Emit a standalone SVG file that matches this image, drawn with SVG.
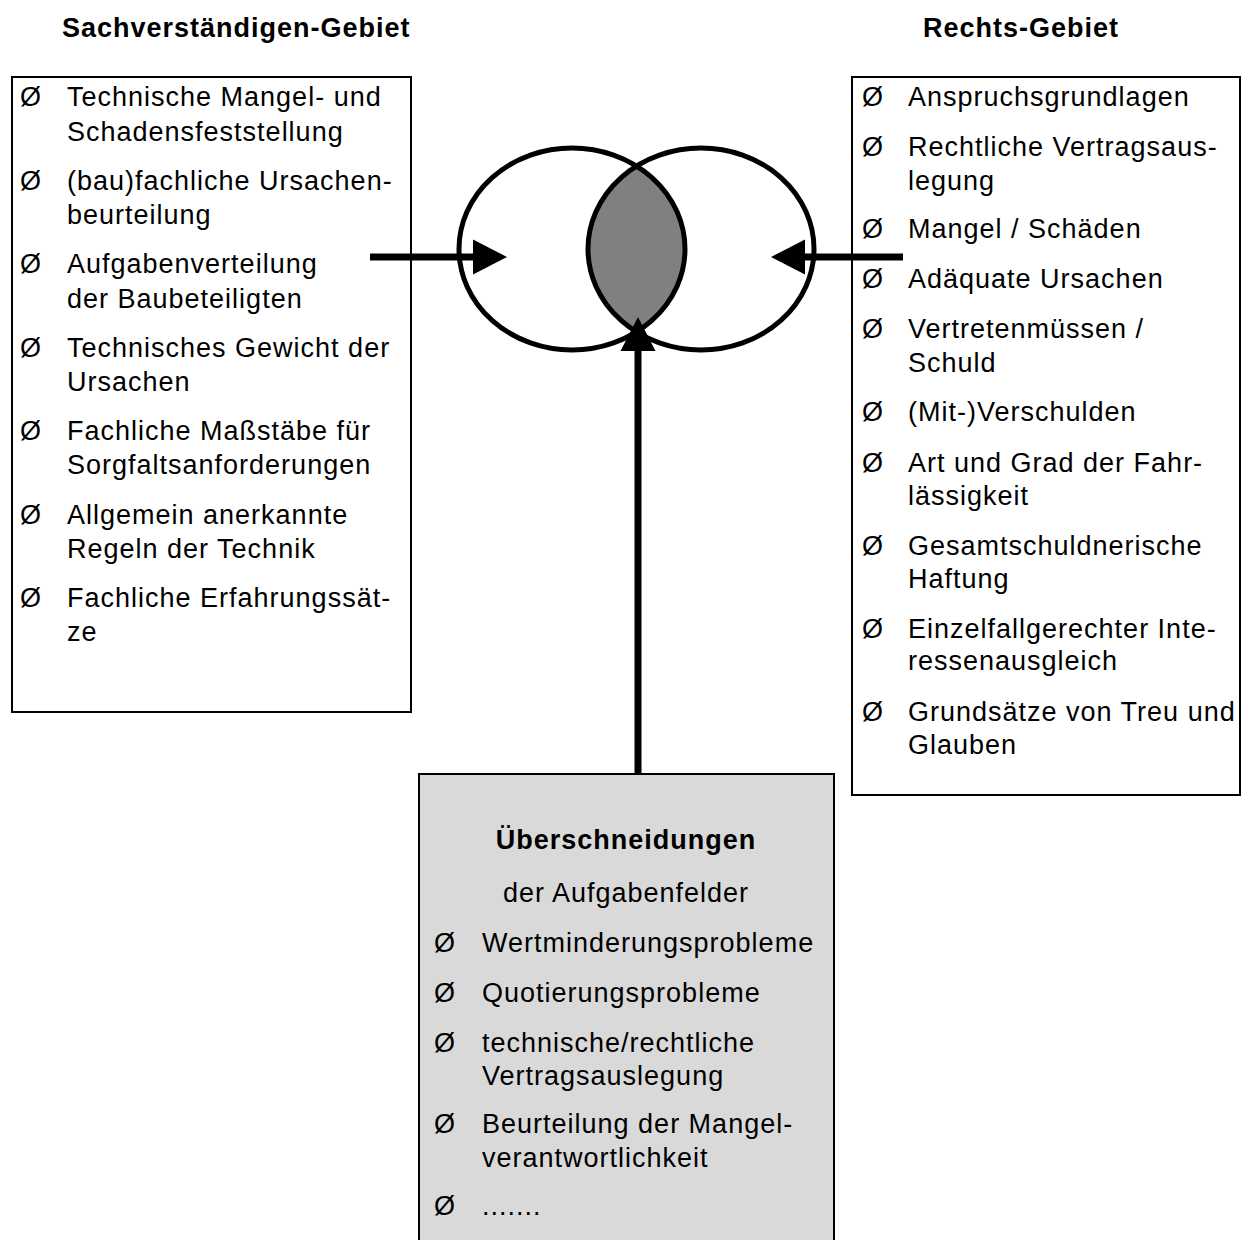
<svg xmlns="http://www.w3.org/2000/svg" width="1242" height="1240" viewBox="0 0 1242 1240">
<style>
text{font-family:"Liberation Sans",Arial,sans-serif;font-size:27px;letter-spacing:1px;fill:#000}
.h{font-weight:bold}
.box{fill:#fff;stroke:#000;stroke-width:2}
.gbox{fill:#d9d9d9;stroke:#000;stroke-width:2}
.ell{fill:none;stroke:#000;stroke-width:5}
.arr{stroke:#000;stroke-width:7;fill:none;marker-end:url(#ah)}
</style>
<defs>
<marker id="ah" markerUnits="userSpaceOnUse" markerWidth="36" markerHeight="36" refX="0" refY="17.5" orient="auto" overflow="visible">
<path d="M0,0 L34,17.5 L0,35 Z" fill="#000"/>
</marker>
</defs>
<rect width="1242" height="1240" fill="#fff"/>
<g id="header-left"><text class="h" x="62" y="37">Sachverständigen-Gebiet</text></g>
<g id="header-right"><text class="h" x="923" y="37">Rechts-Gebiet</text></g>

<g id="left-box">
<rect class="box" x="12" y="77" width="399" height="635"/>
<text x="20" y="106">Ø</text><text x="67" y="106">Technische Mangel- und</text><text x="67" y="141">Schadensfeststellung</text>
<text x="20" y="190">Ø</text><text x="67" y="190">(bau)fachliche Ursachen-</text><text x="67" y="224">beurteilung</text>
<text x="20" y="273">Ø</text><text x="67" y="273">Aufgabenverteilung</text><text x="67" y="308">der Baubeteiligten</text>
<text x="20" y="357">Ø</text><text x="67" y="357">Technisches Gewicht der</text><text x="67" y="391">Ursachen</text>
<text x="20" y="440">Ø</text><text x="67" y="440">Fachliche Maßstäbe für</text><text x="67" y="474">Sorgfaltsanforderungen</text>
<text x="20" y="524">Ø</text><text x="67" y="524">Allgemein anerkannte</text><text x="67" y="558">Regeln der Technik</text>
<text x="20" y="607">Ø</text><text x="67" y="607">Fachliche Erfahrungssät-</text><text x="67" y="641">ze</text>
</g>

<g id="right-box">
<rect class="box" x="852" y="77" width="388" height="718"/>
<text x="862" y="106">Ø</text><text x="908" y="106">Anspruchsgrundlagen</text>
<text x="862" y="156">Ø</text><text x="908" y="156">Rechtliche Vertragsaus-</text><text x="908" y="190">legung</text>
<text x="862" y="238">Ø</text><text x="908" y="238">Mangel / Schäden</text>
<text x="862" y="288">Ø</text><text x="908" y="288">Adäquate Ursachen</text>
<text x="862" y="338">Ø</text><text x="908" y="338">Vertretenmüssen /</text><text x="908" y="372">Schuld</text>
<text x="862" y="421">Ø</text><text x="908" y="421">(Mit-)Verschulden</text>
<text x="862" y="472">Ø</text><text x="908" y="472">Art und Grad der Fahr-</text><text x="908" y="505">lässigkeit</text>
<text x="862" y="555">Ø</text><text x="908" y="555">Gesamtschuldnerische</text><text x="908" y="588">Haftung</text>
<text x="862" y="638">Ø</text><text x="908" y="638">Einzelfallgerechter Inte-</text><text x="908" y="670">ressenausgleich</text>
<text x="862" y="721">Ø</text><text x="908" y="721">Grundsätze von Treu und</text><text x="908" y="754">Glauben</text>
</g>

<g id="bottom-box">
<rect class="gbox" x="419" y="774" width="415" height="480"/>
<text class="h" x="626" y="849" text-anchor="middle">Überschneidungen</text>
<text x="626" y="902" text-anchor="middle">der Aufgabenfelder</text>
<text x="434" y="952">Ø</text><text x="482" y="952">Wertminderungsprobleme</text>
<text x="434" y="1002">Ø</text><text x="482" y="1002">Quotierungsprobleme</text>
<text x="434" y="1052">Ø</text><text x="482" y="1052">technische/rechtliche</text><text x="482" y="1085">Vertragsauslegung</text>
<text x="434" y="1133">Ø</text><text x="482" y="1133">Beurteilung der Mangel-</text><text x="482" y="1167">verantwortlichkeit</text>
<text x="434" y="1215">Ø</text><text x="482" y="1215">.......</text>
</g>

<g id="venn">
<path d="M636.5,166 A113,101 0 0 1 636.5,332 A113,101 0 0 1 636.5,166 Z" fill="#808080"/>
<ellipse class="ell" cx="572" cy="249" rx="113" ry="101"/>
<ellipse class="ell" cx="701" cy="249" rx="113" ry="101"/>
</g>

<g id="connectors">
<line class="arr" x1="370" y1="257" x2="473" y2="257"/>
<line class="arr" x1="903" y1="257" x2="805" y2="257"/>
<line class="arr" x1="638" y1="774" x2="638" y2="351"/>
</g>
</svg>
